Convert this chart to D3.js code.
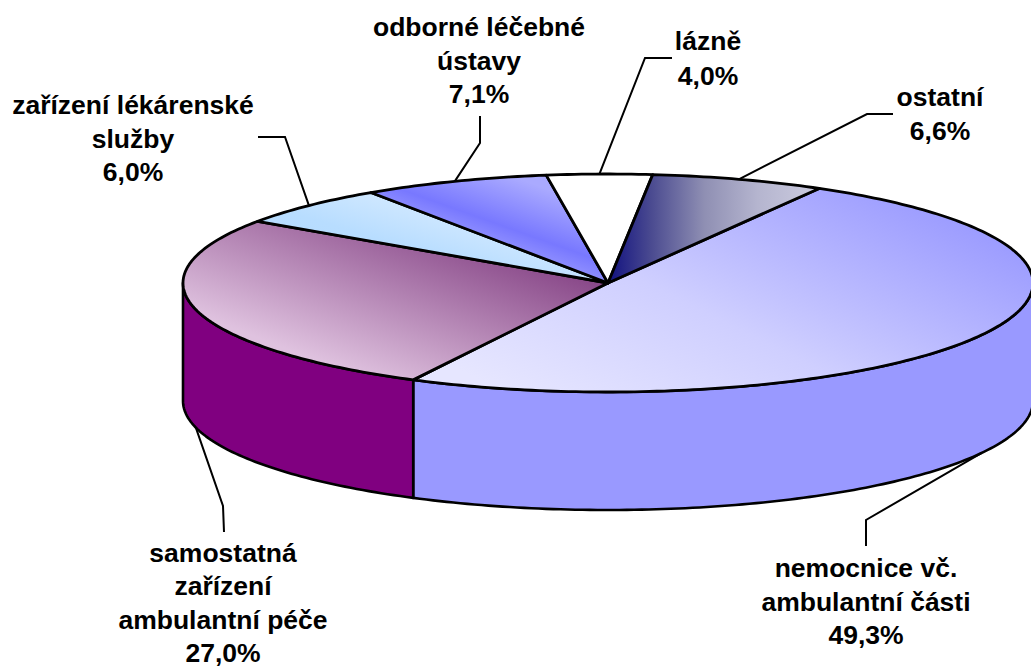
<!DOCTYPE html>
<html><head><meta charset="utf-8">
<script src="https://cdn.jsdelivr.net/npm/d3@7/dist/d3.min.js"></script>
<style>html,body{margin:0;padding:0;background:#fff;overflow:hidden}svg{display:block}</style>
</head><body><svg id="c" width="1031" height="668"></svg>
<script>
const categories = ["nemocnice vč. ambulantní části","samostatná zařízení ambulantní péče","zařízení lékárenské služby","odborné léčebné ústavy","lázně","ostatní"];
const values = [49.3,27.0,6.0,7.1,4.0,6.6];
const labelLines = [["nemocnice vč.","ambulantní části"],["samostatná","zařízení","ambulantní péče"],["zařízení lékárenské","služby"],["odborné léčebné","ústavy"],["lázně"],["ostatní"]];
const sideColors = ["#9999ff","#800080"];

const W=1031,H=668,cx=608,cy=283,rx=425,ry=109,depth=118;
const svg=d3.select("#c");
const x=d3.scaleLinear().domain([-1,1]).range([cx-rx,cx+rx]);
const y=d3.scaleLinear().domain([-1,1]).range([cy-ry,cy+ry]);
const px=a=>x(Math.sin(a)), py=a=>y(-Math.cos(a));
const rad=d=>d*Math.PI/180;
const start=rad(29.8);
const arcs=d3.pie().sort(null).startAngle(start).endAngle(start+2*Math.PI)(values);
const fmt=v=>v.toFixed(1).replace(".",",")+"%";

const defs=svg.append("defs");
function grad(id,p,stops){
  const g=defs.append("linearGradient").attr("id",id).attr("gradientUnits","userSpaceOnUse")
   .attr("x1",p[0]).attr("y1",p[1]).attr("x2",p[2]).attr("y2",p[3]);
  stops.forEach(s=>g.append("stop").attr("offset",s[0]).attr("stop-color",s[1]));
}
grad("g0",[500,390,660,70],[[0,"#e6e6ff"],[0.45,"#cfcfff"],[1,"#9c9cff"]]);
grad("g1",[380,385,442,225],[[0,"#dfc2df"],[1,"#8a4a8a"]]);
grad("g2",[430,300,455,215],[[0,"#b4dbff"],[0.5,"#b8ddff"],[1,"#d0e8ff"]]);
grad("g3",[568,272,592,205],[[0,"#9292ff"],[0.3,"#7878ff"],[1,"#aaaaff"]]);
grad("g5",[608,0,822,0],[[0,"#111180"],[0.2,"#4a4a90"],[0.45,"#8f8fb3"],[0.7,"#b5b5cf"],[1,"#cdcde0"]]);
const fills=["url(#g0)","url(#g1)","url(#g2)","url(#g3)","#ffffff","url(#g5)"];

function applyStroke(s,w){s.attr("stroke","#000").attr("stroke-width",w).attr("stroke-linejoin","round");return s;}
function arcPts(a0,a1,dy){
  const n=Math.max(2,Math.ceil((a1-a0)/rad(1)));
  return d3.range(n+1).map(i=>{const a=a0+(a1-a0)*i/n;return [px(a),py(a)+dy];});
}
const line=d3.line();

// side walls
const wallAngles=[[rad(90),arcs[0].endAngle,0],[arcs[0].endAngle,rad(270),1]];
wallAngles.forEach(w=>{
  const top=arcPts(w[0],w[1],0), bot=arcPts(w[0],w[1],depth).reverse();
  applyStroke(svg.append("path").attr("d",line(top.concat(bot))+"Z").attr("fill",sideColors[w[2]]),2.6);
});

// leaders
const leaderOffsets=[[866,520,866,546],[223,506,224,532],[285,137,258,137],[480,143,480,116],[645,58,672,58],[867,114,893,114]];
arcs.forEach((d,i)=>{
  const m=(d.startAngle+d.endAngle)/2;
  const onSide=Math.cos(m)<0;
  const p0=[px(m),py(m)+(onSide?depth:0)];
  const o=leaderOffsets[i];
  svg.append("path").attr("d",line([p0,[o[0],o[1]],[o[2],o[3]]])).attr("fill","none").attr("stroke","#000").attr("stroke-width",2);
});

// top face
arcs.forEach((d,i)=>{
  const pts=[[cx,cy]].concat(arcPts(d.startAngle,d.endAngle,0));
  applyStroke(svg.append("path").attr("d",line(pts)+"Z").attr("fill",fills[i]),2.8);
});

// labels: centre x, first baseline, line spacing
const labelPos=[[866,577,33.7],[223,562,33.4],[133,114,33.7],[479,36,33.7],[708,50,35],[940,106,33.7]];
labelLines.forEach((ls,i)=>{
  const t=svg.append("text").attr("text-anchor","middle").attr("font-family","'Liberation Sans',Arial,sans-serif").attr("font-weight","700").attr("font-size",26.5).attr("fill","#000");
  ls.concat(fmt(values[i])).forEach((s,j)=>t.append("tspan").attr("x",labelPos[i][0]).attr("y",labelPos[i][1]+j*labelPos[i][2]).text(s));
});
</script></body></html>
